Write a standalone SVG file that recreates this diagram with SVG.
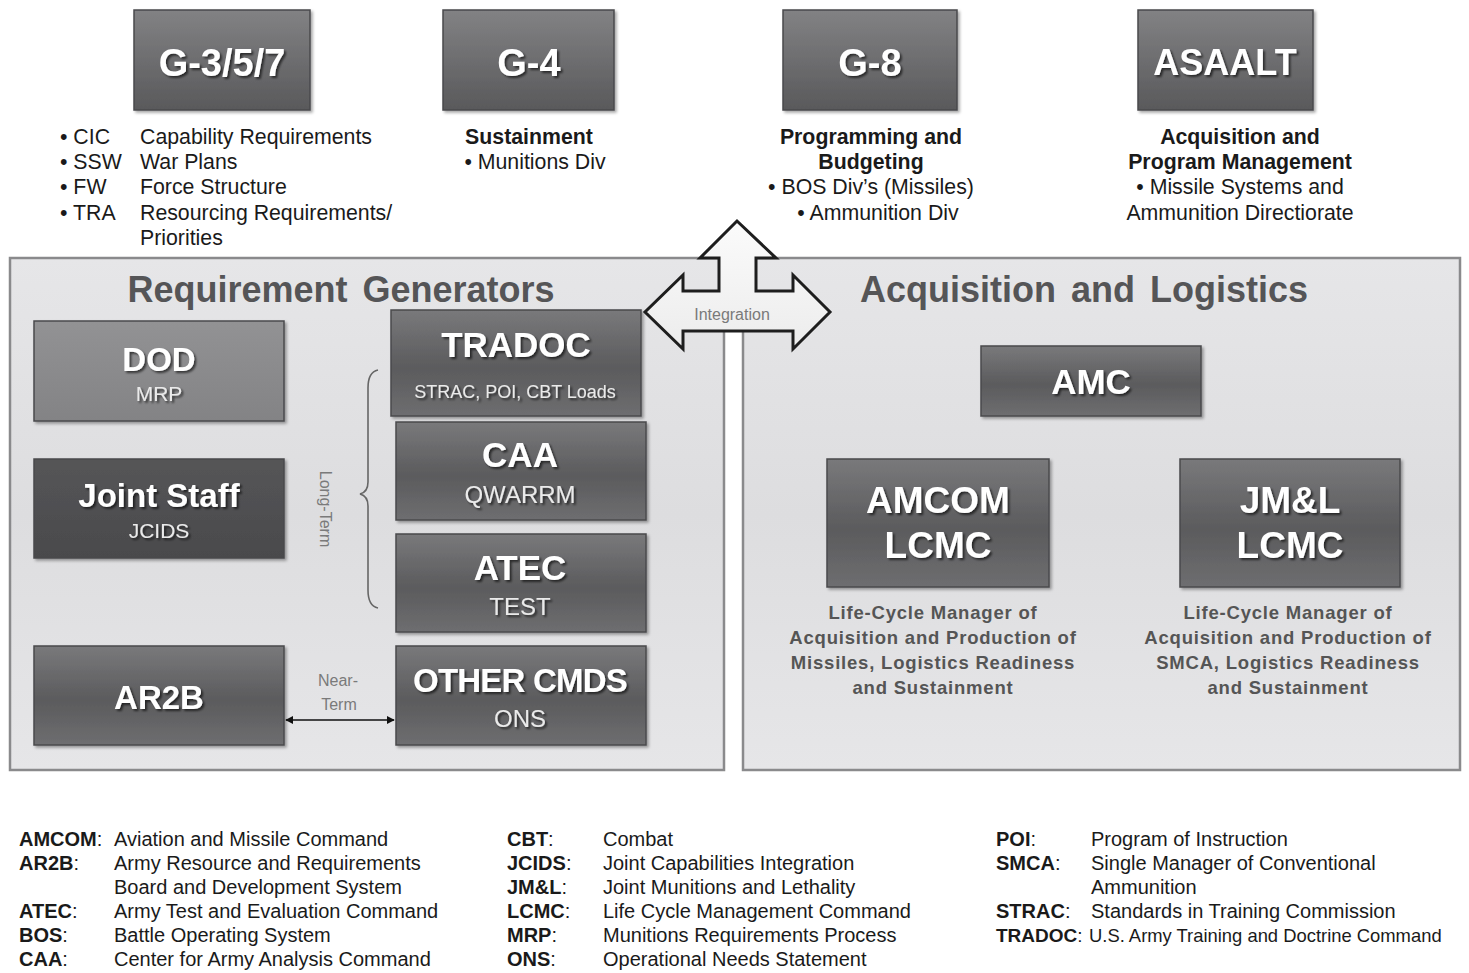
<svg xmlns="http://www.w3.org/2000/svg" width="1469" height="973" viewBox="0 0 1469 973">
<defs>
<linearGradient id="gTop" x1="0" y1="0" x2="0" y2="1"><stop offset="0" stop-color="#828284"/><stop offset="1" stop-color="#59595b"/></linearGradient>
<linearGradient id="gMid" x1="0" y1="0" x2="0" y2="1"><stop offset="0" stop-color="#79797b"/><stop offset="0.55" stop-color="#5b5b5d"/><stop offset="1" stop-color="#6e6e70"/></linearGradient>
<linearGradient id="gDod" x1="0" y1="0" x2="0" y2="1"><stop offset="0" stop-color="#929294"/><stop offset="1" stop-color="#838385"/></linearGradient>
<linearGradient id="gJoint" x1="0" y1="0" x2="0" y2="1"><stop offset="0" stop-color="#555557"/><stop offset="1" stop-color="#4a4a4c"/></linearGradient>
<linearGradient id="gPanel" x1="0" y1="0" x2="0" y2="1"><stop offset="0" stop-color="#e6e6e8"/><stop offset="0.5" stop-color="#dddddf"/><stop offset="1" stop-color="#e6e6e8"/></linearGradient>
<linearGradient id="gArrow" x1="0" y1="0" x2="0" y2="1"><stop offset="0" stop-color="#fbfbfb"/><stop offset="1" stop-color="#ececec"/></linearGradient>
<filter id="tsh" x="-10%" y="-20%" width="130%" height="160%"><feDropShadow dx="2" dy="2" stdDeviation="1.2" flood-color="#000" flood-opacity="0.6"/></filter>
<filter id="bsh" x="-5%" y="-5%" width="115%" height="115%"><feDropShadow dx="2" dy="2" stdDeviation="1.5" flood-color="#000" flood-opacity="0.35"/></filter>
<marker id="ah" viewBox="0 0 10 10" refX="9" refY="5" markerWidth="8" markerHeight="8" orient="auto-start-reverse" markerUnits="userSpaceOnUse"><path d="M0,0 L10,5 L0,10 z" fill="#111"/></marker>
<style>
.box{stroke:#4a4a4c;stroke-width:1.5;filter:url(#bsh)}
.t{font-family:"Liberation Sans",Arial,sans-serif;fill:#fff;font-weight:bold;text-anchor:middle;filter:url(#tsh)}
.s{font-family:"Liberation Sans",Arial,sans-serif;fill:#eaeaea;text-anchor:middle;filter:url(#tsh)}
.tx{font-family:"Liberation Sans",Arial,sans-serif;fill:#1a1a1a;font-size:21.3px}
.b{font-weight:bold}
.c{text-anchor:middle}
.panel{fill:url(#gPanel);stroke:#8a8a8c;stroke-width:2.5}
.ptitle{font-family:"Liberation Sans",Arial,sans-serif;font-weight:bold;font-size:36px;fill:#555557;word-spacing:5px}
.desc{font-family:"Liberation Sans",Arial,sans-serif;font-weight:bold;font-size:18.5px;fill:#555;text-anchor:middle;letter-spacing:0.8px}
.note{font-family:"Liberation Sans",Arial,sans-serif;fill:#7a7a7a;font-size:16px}
.lg{font-family:"Liberation Sans",Arial,sans-serif;fill:#1a1a1a;font-size:20px}
</style>
</defs>
<rect width="1469" height="973" fill="#fff"/>

<!-- panels -->
<g id="panel-req"><rect class="panel" x="10" y="258" width="714" height="512"/>
<text class="ptitle" x="341" y="302" text-anchor="middle">Requirement Generators</text></g>
<g id="panel-acq"><rect class="panel" x="743" y="258" width="717" height="512"/>
<text class="ptitle" x="1084" y="302" text-anchor="middle">Acquisition and Logistics</text></g>

<!-- top boxes -->
<g id="g357"><rect class="box" x="134" y="10" width="176" height="100" fill="url(#gTop)"/><text class="t" x="222" y="76" font-size="38">G-3/5/7</text></g>
<g id="g4"><rect class="box" x="443" y="10" width="171" height="100" fill="url(#gTop)"/><text class="t" x="529" y="76" font-size="38">G-4</text></g>
<g id="g8"><rect class="box" x="783" y="10" width="174" height="100" fill="url(#gTop)"/><text class="t" x="870" y="76" font-size="38">G-8</text></g>
<g id="asaalt"><rect class="box" x="1138" y="10" width="175" height="100" fill="url(#gTop)"/><text class="t" x="1225" y="75" font-size="36">ASAALT</text></g>

<!-- top descriptions -->
<g id="g357-text" class="tx">
<text x="60" y="144">• CIC</text><text x="140" y="144">Capability Requirements</text>
<text x="60" y="169">• SSW</text><text x="140" y="169">War Plans</text>
<text x="60" y="194">• FW</text><text x="140" y="194">Force Structure</text>
<text x="60" y="220">• TRA</text><text x="140" y="220">Resourcing Requirements/</text>
<text x="140" y="245">Priorities</text>
</g>
<g id="g4-text" class="tx">
<text class="b c" x="529" y="144">Sustainment</text>
<text class="c" x="535" y="169">• Munitions Div</text>
</g>
<g id="g8-text" class="tx">
<text class="b c" x="871" y="144">Programming and</text>
<text class="b c" x="871" y="169">Budgeting</text>
<text class="c" x="871" y="194">• BOS Div’s (Missiles)</text>
<text class="c" x="878" y="220">• Ammunition Div</text>
</g>
<g id="asaalt-text" class="tx">
<text class="b c" x="1240" y="144">Acquisition and</text>
<text class="b c" x="1240" y="169">Program Management</text>
<text class="c" x="1240" y="194">• Missile Systems and</text>
<text class="c" x="1240" y="220">Ammunition Directiorate</text>
</g>

<!-- left nodes -->
<g id="dod"><rect class="box" x="34" y="321" width="250" height="100" fill="url(#gDod)"/><text class="t" x="159" y="371" font-size="33">DOD</text><text class="s" x="159" y="401" font-size="21">MRP</text></g>
<g id="jointstaff"><rect class="box" x="34" y="459" width="250" height="99" fill="url(#gJoint)"/><text class="t" x="159" y="507" font-size="33">Joint Staff</text><text class="s" x="159" y="538" font-size="21">JCIDS</text></g>
<g id="ar2b"><rect class="box" x="34" y="646" width="250" height="99" fill="url(#gMid)"/><text class="t" x="159" y="709" font-size="33">AR2B</text></g>
<g id="tradoc"><rect class="box" x="391" y="310" width="250" height="106" fill="url(#gMid)"/><text class="t" x="516" y="357" font-size="35">TRADOC</text><text class="s" x="515" y="398" font-size="18">STRAC, POI, CBT Loads</text></g>
<g id="caa"><rect class="box" x="396" y="422" width="250" height="98" fill="url(#gMid)"/><text class="t" x="520" y="467" font-size="35">CAA</text><text class="s" x="520" y="503" font-size="24">QWARRM</text></g>
<g id="atec"><rect class="box" x="396" y="534" width="250" height="98" fill="url(#gMid)"/><text class="t" x="520" y="580" font-size="35">ATEC</text><text class="s" x="520" y="615" font-size="24">TEST</text></g>
<g id="othercmds"><rect class="box" x="396" y="646" width="250" height="99" fill="url(#gMid)"/><text class="t" x="520" y="692" font-size="33" letter-spacing="-0.8">OTHER CMDS</text><text class="s" x="520" y="727" font-size="24">ONS</text></g>

<!-- right nodes -->
<g id="amc"><rect class="box" x="981" y="346" width="220" height="70" fill="url(#gMid)"/><text class="t" x="1091" y="394" font-size="35">AMC</text></g>
<g id="amcom"><rect class="box" x="827" y="459" width="222" height="128" fill="url(#gMid)"/><text class="t" x="938" y="513" font-size="37">AMCOM</text><text class="t" x="938" y="558" font-size="37">LCMC</text>
<text class="desc" x="933" y="619">Life-Cycle Manager of</text><text class="desc" x="933" y="644">Acquisition and Production of</text><text class="desc" x="933" y="669">Missiles, Logistics Readiness</text><text class="desc" x="933" y="694">and Sustainment</text></g>
<g id="jml"><rect class="box" x="1180" y="459" width="220" height="128" fill="url(#gMid)"/><text class="t" x="1290" y="513" font-size="37">JM&amp;L</text><text class="t" x="1290" y="558" font-size="37">LCMC</text>
<text class="desc" x="1288" y="619">Life-Cycle Manager of</text><text class="desc" x="1288" y="644">Acquisition and Production of</text><text class="desc" x="1288" y="669">SMCA, Logistics Readiness</text><text class="desc" x="1288" y="694">and Sustainment</text></g>

<!-- connectors -->
<g id="connectors">
<path id="integration" d="M737,221 L776,258 L756,258 L756,291 L793,291 L793,275 L830,312 L793,349 L793,331 L683,331 L683,349 L645,312 L683,275 L683,291 L719,291 L719,258 L700,258 Z" fill="url(#gArrow)" stroke="#1e1e1e" stroke-width="3" stroke-linejoin="miter"/>
<text class="note" x="732" y="320" text-anchor="middle" font-size="16">Integration</text>
<path id="longterm-brace" d="M378,370 Q368,372 368,388 L368,482 Q368,492 360,494 Q368,496 368,506 L368,590 Q368,606 378,608" fill="none" stroke="#666" stroke-width="1.6"/>
<text class="note" transform="translate(320,509) rotate(90)" text-anchor="middle" font-size="18">Long-Term</text>
<line id="nearterm" x1="286" y1="720" x2="394" y2="720" stroke="#111" stroke-width="1.6" marker-start="url(#ah)" marker-end="url(#ah)"/>
<text class="note" x="338" y="686" text-anchor="middle" font-size="17">Near-</text>
<text class="note" x="339" y="710" text-anchor="middle" font-size="17">Term</text>
</g>

<!-- legend -->
<g id="legend" class="lg">
<text class="b" x="19" y="846">AMCOM<tspan font-weight="normal">:</tspan></text><text x="114" y="846">Aviation and Missile Command</text>
<text class="b" x="19" y="870">AR2B<tspan font-weight="normal">:</tspan></text><text x="114" y="870">Army Resource and Requirements</text>
<text x="114" y="894">Board and Development System</text>
<text class="b" x="19" y="918">ATEC<tspan font-weight="normal">:</tspan></text><text x="114" y="918">Army Test and Evaluation Command</text>
<text class="b" x="19" y="942">BOS<tspan font-weight="normal">:</tspan></text><text x="114" y="942">Battle Operating System</text>
<text class="b" x="19" y="966">CAA<tspan font-weight="normal">:</tspan></text><text x="114" y="966">Center for Army Analysis Command</text>

<text class="b" x="507" y="846">CBT<tspan font-weight="normal">:</tspan></text><text x="603" y="846">Combat</text>
<text class="b" x="507" y="870">JCIDS<tspan font-weight="normal">:</tspan></text><text x="603" y="870">Joint Capabilities Integration</text>
<text class="b" x="507" y="894">JM&amp;L<tspan font-weight="normal">:</tspan></text><text x="603" y="894">Joint Munitions and Lethality</text>
<text class="b" x="507" y="918">LCMC<tspan font-weight="normal">:</tspan></text><text x="603" y="918">Life Cycle Management Command</text>
<text class="b" x="507" y="942">MRP<tspan font-weight="normal">:</tspan></text><text x="603" y="942">Munitions Requirements Process</text>
<text class="b" x="507" y="966">ONS<tspan font-weight="normal">:</tspan></text><text x="603" y="966">Operational Needs Statement</text>

<text class="b" x="996" y="846">POI<tspan font-weight="normal">:</tspan></text><text x="1091" y="846">Program of Instruction</text>
<text class="b" x="996" y="870">SMCA<tspan font-weight="normal">:</tspan></text><text x="1091" y="870">Single Manager of Conventional</text>
<text x="1091" y="894">Ammunition</text>
<text class="b" x="996" y="918">STRAC<tspan font-weight="normal">:</tspan></text><text x="1091" y="918">Standards in Training Commission</text>
<text class="b" x="996" y="942" font-size="19">TRADOC<tspan font-weight="normal">:</tspan></text><text x="1089" y="942" font-size="18.4">U.S. Army Training and Doctrine Command</text>
</g>
</svg>
